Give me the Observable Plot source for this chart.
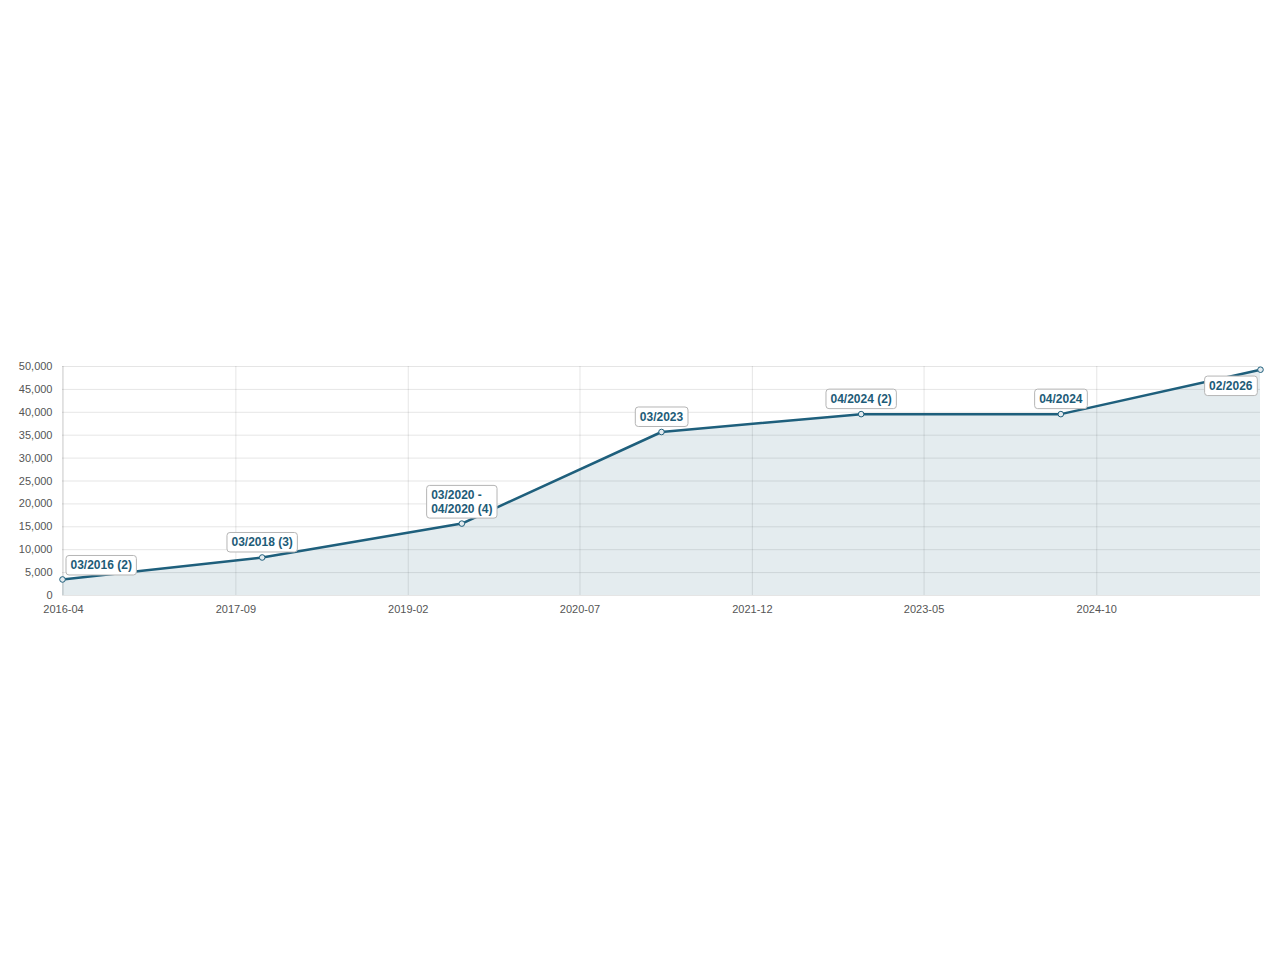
<!DOCTYPE html>
<html>
<head>
<meta charset="utf-8">
<script src="https://cdn.jsdelivr.net/npm/d3@7"></script>
<script src="https://cdn.jsdelivr.net/npm/@observablehq/plot@0.6"></script>
<style>
  html, body { margin: 0; padding: 0; background: #fff; }
  #chart svg { display: block; }
</style>
</head>
<body>
<div id="chart"></div>
<script>
// ---- data ----
const dates = ["2016-03-29", "2017-11-19", "2019-07-12", "2021-03-03", "2022-10-24", "2024-06-15", "2026-02-05"];
const values = [3500, 8300, 15700, 35700, 39600, 39600, 49300];
const labels = ["03/2016 (2)", "03/2018 (3)", "03/2020 -\n04/2020 (4)", "03/2023", "04/2024 (2)", "04/2024", "02/2026"];
const xTickLabels = ["2016-04", "2017-09", "2019-02", "2020-07", "2021-12", "2023-05", "2024-10"];
const yTicks = [0, 5000, 10000, 15000, 20000, 25000, 30000, 35000, 40000, 45000, 50000];

const data = dates.map((d, i) => ({date: new Date(d), value: values[i], label: labels[i], i}));
const xTicks = xTickLabels.map(s => new Date(s + "-01"));
const last = data.length - 1;

const color = "#1e5f7c";
const textColor = "#1d5c78";
const font = "'Liberation Sans', Arial, Helvetica, sans-serif";

const labelStyle = {x: "date", y: "value", text: "label", fill: textColor, fontWeight: "bold", fontSize: 12, lineHeight: 1.1};

const chart = Plot.plot({
  width: 1280,
  height: 960,
  marginLeft: 62,
  marginRight: 20,
  marginTop: 366,
  marginBottom: 365,
  style: {fontFamily: font, fontSize: "11px", color: "#555", background: "#fff"},
  x: {type: "utc", domain: [data[0].date, data[last].date], label: null},
  y: {domain: [0, 50000], label: null},
  marks: [
    Plot.gridY(yTicks, {stroke: "#000", strokeOpacity: 0.1}),
    Plot.gridX(xTicks, {stroke: "#000", strokeOpacity: 0.1}),
    Plot.ruleX([data[0].date], {stroke: "#000", strokeOpacity: 0.12}),
    Plot.areaY(data, {x: "date", y: "value", fill: color, fillOpacity: 0.12}),
    Plot.lineY(data, {x: "date", y: "value", stroke: color, strokeWidth: 2.5}),
    Plot.dot(data, {x: "date", y: "value", r: 2.8, fill: "#e4ebef", stroke: color, strokeWidth: 1}),
    Plot.axisY({ticks: yTicks, tickSize: 0, tickPadding: 10, tickFormat: d3.format(","), fill: "#555", fontSize: 11, label: null}),
    Plot.axisX({ticks: xTicks, tickSize: 0, tickPadding: 10, tickFormat: d3.utcFormat("%Y-%m"), fill: "#555", fontSize: 11, label: null}),
    // first label: to the right, above
    Plot.text(data.filter(d => d.i === 0), {...labelStyle, textAnchor: "start", lineAnchor: "bottom", dx: 8, dy: -10}),
    // middle labels: centered above
    Plot.text(data.filter(d => d.i > 0 && d.i < last), {...labelStyle, textAnchor: "middle", lineAnchor: "bottom", dy: -11}),
    // last label: to the left, below
    Plot.text(data.filter(d => d.i === last), {...labelStyle, textAnchor: "end", lineAnchor: "top", dx: -8, dy: 11})
  ]
});

document.getElementById("chart").append(chart);

// label boxes behind texts (multi-line text left-aligned inside a centred box)
d3.select(chart).selectAll("g[aria-label='text'] text").each(function() {
  const t = d3.select(this);
  if (this.querySelectorAll("tspan").length > 1 && t.attr("text-anchor") !== "start" && t.attr("text-anchor") !== "end") {
    const w0 = this.getBBox().width;
    t.attr("text-anchor", "start");
    t.attr("transform", (t.attr("transform") || "") + ` translate(${-w0 / 2},0)`);
  }
  const b = this.getBBox();
  const padX = 4.5;
  d3.select(this.parentNode).insert("rect", () => this)
    .attr("transform", t.attr("transform"))
    .attr("x", b.x - padX)
    .attr("y", b.y - 3)
    .attr("width", b.width + 2 * padX)
    .attr("height", b.height + 5.5)
    .attr("rx", 3)
    .attr("fill", "#fff")
    .attr("stroke", "#b5b5b5")
    .attr("stroke-width", 1);
});
</script>
</body>
</html>
